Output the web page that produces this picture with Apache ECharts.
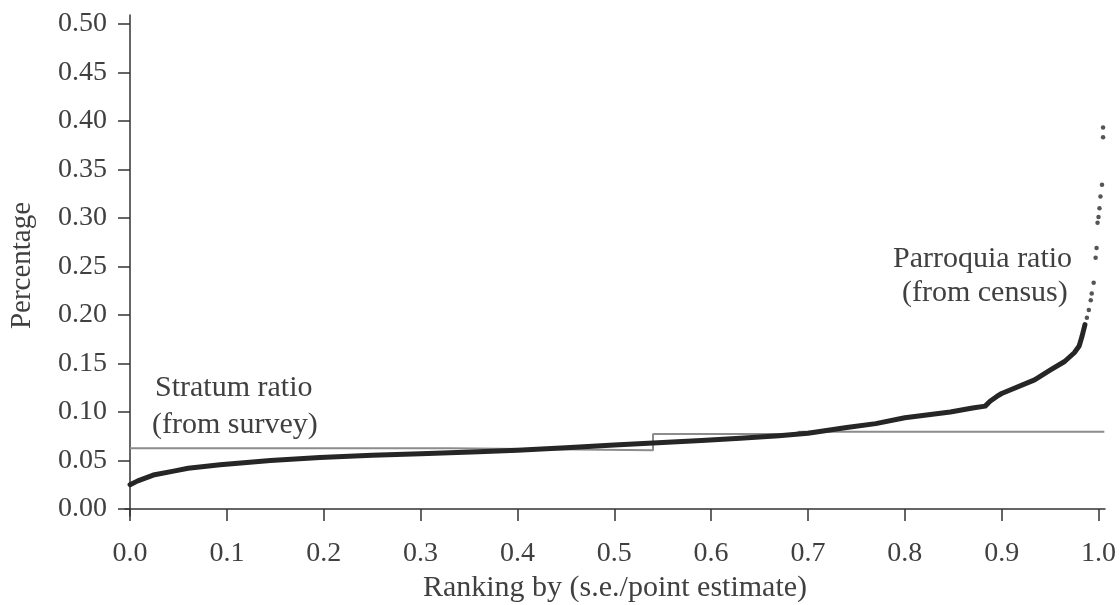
<!DOCTYPE html>
<html>
<head>
<meta charset="utf-8">
<script src="https://cdn.jsdelivr.net/npm/echarts@6/dist/echarts.min.js"></script>
<style>
  html, body { margin: 0; padding: 0; background: #fff; }
  #chart { width: 1120px; height: 605px; }
</style>
</head>
<body>
<div id="chart"></div>
<script>
// Parroquia ratio (from census), ranked by s.e./point estimate: dense part of the curve
const parroquiaRank = [0.000, 0.008, 0.024, 0.045, 0.060, 0.093, 0.145, 0.196, 0.250, 0.300,
  0.360, 0.400, 0.450, 0.500, 0.540, 0.590, 0.630, 0.670, 0.700, 0.740,
  0.770, 0.800, 0.847, 0.870, 0.883, 0.888, 0.895, 0.900, 0.934, 0.950,
  0.965, 0.975, 0.980, 0.983, 0.986];
const parroquiaValue = [0.025, 0.029, 0.035, 0.039, 0.042, 0.0455, 0.050, 0.053, 0.0555, 0.057,
  0.059, 0.0605, 0.063, 0.066, 0.068, 0.0705, 0.073, 0.0755, 0.078, 0.084,
  0.088, 0.094, 0.100, 0.104, 0.106, 0.111, 0.116, 0.119, 0.133, 0.143,
  0.152, 0.161, 0.168, 0.178, 0.190];

// Sparse upper tail of the Parroquia ratio
const tailRank = [0.988, 0.990, 0.992, 0.993, 0.995, 0.997, 0.998, 0.999, 1.000, 1.001,
  1.002, 1.0036, 1.0047, 1.0047];
const tailValue = [0.197, 0.205, 0.215, 0.222, 0.233, 0.259, 0.269, 0.295, 0.301, 0.310,
  0.322, 0.334, 0.383, 0.393];

// Stratum ratio (from survey): constant within each stratum segment
const stratumBreaks = [0.000, 0.330, 0.540, 0.690, 1.006];
const stratumValues = [0.0625, 0.0605, 0.0773, 0.0797];

// Tick labels
const xTicks = [0.0, 0.1, 0.2, 0.3, 0.4, 0.5, 0.6, 0.7, 0.8, 0.9, 1.0];
const yTicks = [0.00, 0.05, 0.10, 0.15, 0.20, 0.25, 0.30, 0.35, 0.40, 0.45, 0.50];

const FONT = 'Liberation Serif';
const TEXT = '#404040';
const AXIS = '#333';

const parroquiaLine = parroquiaRank.map((x, i) => [x, parroquiaValue[i]]);
const tailPoints = tailRank.map((x, i) => [x, tailValue[i]]);
const stratumLine = [];
stratumValues.forEach((v, i) => {
  stratumLine.push([stratumBreaks[i], v]);
  stratumLine.push([stratumBreaks[i + 1], v]);
});

const chart = echarts.init(document.getElementById('chart'), null, { renderer: 'canvas' });

const annotation = (x, y, text) => ({
  type: 'text', x, y,
  style: { text, font: '30px "Liberation Serif"', fill: TEXT, verticalAlign: 'middle', align: 'left' }
});

chart.setOption({
  animation: false,
  backgroundColor: '#fff',
  grid: { left: 125, right: 15, top: 15, bottom: 89, containLabel: false, outerBoundsMode: 'none' },
  xAxis: {
    type: 'value',
    min: -0.0052,
    max: 1.0067,
    name: 'Ranking by (s.e./point estimate)',
    nameLocation: 'middle',
    nameGap: 57,
    nameTextStyle: { fontFamily: FONT, fontSize: 30, color: TEXT },
    axisLine: { show: true, lineStyle: { color: AXIS, width: 1.5 } },
    axisTick: { show: true, length: 12, customValues: xTicks, lineStyle: { color: AXIS, width: 1.5 } },
    axisLabel: {
      customValues: xTicks,
      formatter: v => v.toFixed(1),
      fontFamily: FONT, fontSize: 28, color: TEXT, margin: 24
    },
    splitLine: { show: false }
  },
  yAxis: {
    type: 'value',
    min: -0.0072,
    max: 0.509,
    name: 'Percentage',
    nameLocation: 'middle',
    nameGap: 88,
    nameRotate: 90,
    nameTextStyle: { fontFamily: FONT, fontSize: 29, color: TEXT },
    axisLine: { show: true, lineStyle: { color: AXIS, width: 1.5 } },
    axisTick: { show: true, length: 12, customValues: yTicks, lineStyle: { color: AXIS, width: 1.5 } },
    axisLabel: {
      customValues: yTicks,
      formatter: v => v.toFixed(2),
      fontFamily: FONT, fontSize: 28, color: TEXT, margin: 18,
      padding: [8, 0, 0, 0]
    },
    splitLine: { show: false }
  },
  series: [
    {
      name: 'Stratum ratio',
      type: 'line',
      data: stratumLine,
      showSymbol: false,
      lineStyle: { color: '#8c8c8c', width: 2 },
      z: 1
    },
    {
      name: 'Parroquia ratio',
      type: 'line',
      data: parroquiaLine,
      showSymbol: false,
      lineStyle: { color: '#262626', width: 5, cap: 'round', join: 'round' },
      z: 2
    },
    {
      name: 'Parroquia ratio tail',
      type: 'scatter',
      data: tailPoints,
      symbol: 'circle',
      symbolSize: 4.5,
      itemStyle: { color: '#2a2a2a' },
      z: 3
    }
  ],
  graphic: [
    annotation(155, 388, 'Stratum ratio'),
    annotation(152, 425.5, '(from survey)'),
    annotation(893, 259, 'Parroquia ratio'),
    annotation(902, 293.5, '(from census)')
  ]
});
</script>
</body>
</html>
